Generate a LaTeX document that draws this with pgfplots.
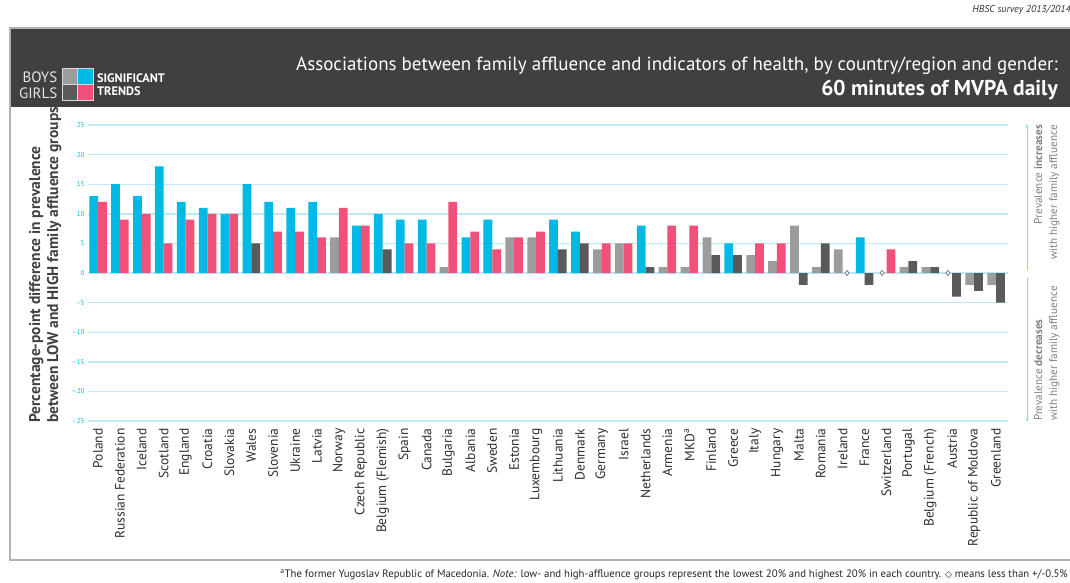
\documentclass[border=0pt]{standalone}
\usepackage{fontspec}
\setmainfont{PT Sans}
\newfontfamily\dejavu{DejaVu Sans}
\usepackage{pgfplots}
\pgfplotsset{compat=1.18}
\usetikzlibrary{arrows.meta}
\definecolor{hcyan}{HTML}{00B9E4}
\definecolor{hpink}{HTML}{F0507A}
\definecolor{hlgray}{HTML}{9C9C9C}
\definecolor{hdgray}{HTML}{5A5A5A}
\definecolor{hband}{HTML}{404040}
\definecolor{hgrid}{HTML}{BCE8F7}
\definecolor{harrow}{HTML}{8ED6EE}
\begin{document}
\begin{tikzpicture}[x=1pt,y=-1pt]
\path[use as bounding box] (0,0) rectangle (1070,583);
% frame and header band
\draw[color=black!30, line width=1.5pt] (10,28) rectangle (1085,560);
\fill[hband] (10.75,28.75) rectangle (1070,107.5);
% legend squares
\fill[hlgray] (62,68) rectangle (77,84);
\fill[hcyan] (77,68) rectangle (93,84);
\fill[hdgray] (62,84) rectangle (77,100);
\fill[hpink] (77,84) rectangle (93,100);
\draw[white!85!black, line width=0.8pt] (62,68) rectangle (93,100) (77,68) -- (77,100) (62,84) -- (93,84);
\node[anchor=east, text=white!90!black, font=\fontsize{15}{15}\selectfont, inner sep=0] at (57.5,77) {BOYS};
\node[anchor=east, text=white!90!black, font=\fontsize{15}{15}\selectfont, inner sep=0] at (57.5,93) {GIRLS};
\node[anchor=west, text=white, font=\bfseries\fontsize{12.3}{12}\selectfont, inner sep=0] at (97,78) {SIGNIFICANT};
\node[anchor=west, text=white, font=\bfseries\fontsize{12.3}{12}\selectfont, inner sep=0] at (97,91.5) {TRENDS};
% title
\node[anchor=east, text=white, font=\fontsize{19}{19}\selectfont, inner sep=0] at (1058,66) {Associations between family affluence and indicators of health, by country/region and gender:};
\node[anchor=east, text=white, font=\bfseries\fontsize{21.5}{21.5}\selectfont, inner sep=0] at (1058,90) {60 minutes of MVPA daily};
\node[anchor=east, text=black!80, font=\itshape\fontsize{10}{10}\selectfont, inner sep=0] at (1071,10) {HBSC survey 2013/2014};
% y label
\node[rotate=90, anchor=north west, align=left, text=black!75, font=\bfseries\fontsize{15.5}{18}\selectfont, inner sep=0] at (29,423) {Percentage-point difference in prevalence\\between LOW and HIGH family affluence groups};
% right annotations
\draw[harrow, line width=1pt, -{Stealth[length=4pt]}] (1027,270) -- (1027,124);
\draw[harrow, line width=1pt, -{Stealth[length=4pt]}] (1027,278) -- (1027,422);
\node[rotate=90, anchor=north east, align=right, text=black!50, font=\fontsize{11.2}{15}\selectfont, inner sep=0] at (1034,125) {Prevalence \textbf{increases}\\with higher family affluence};
\node[rotate=90, anchor=north west, align=left, text=black!50, font=\fontsize{11.2}{15}\selectfont, inner sep=0] at (1034,421) {Prevalence \textbf{decreases}\\with higher family affluence};
% footnote
\node[anchor=east, text=black!85, font=\fontsize{10.8}{10.8}\selectfont, inner sep=0] at (1068,575) {\textsuperscript{a}The former Yugoslav Republic of Macedonia. \textit{Note:} low- and high-affluence groups represent the lowest 20\% and highest 20\% in each country. {\dejavu\fontsize{9}{9}\selectfont ◇} means less than +/-0.5\%};
\begin{axis}[
  at={(88pt,-421pt)}, anchor=south west,
  scale only axis, width=920pt, height=296pt,
  xmin=-0.457, xmax=41.548, ymin=-25, ymax=25,
  clip=false,
  axis line style={draw=none},
  major tick style={draw=none},
  ytick={-25,-20,...,25},
  yticklabels={\textendash25,\textendash20,\textendash15,\textendash10,\textendash5,0,5,10,15,20,25},
  yticklabel style={font=\fontsize{7}{7}\selectfont, text=hcyan},
  ymajorgrids, grid style={hgrid, line width=1.4pt},
  xtick={0,...,41},
  xticklabels={Poland,Russian Federation,Iceland,Scotland,England,Croatia,Slovakia,Wales,Slovenia,Ukraine,Latvia,Norway,Czech Republic,Belgium (Flemish),Spain,Canada,Bulgaria,Albania,Sweden,Estonia,Luxembourg,Lithuania,Denmark,Germany,Israel,Netherlands,Armenia,MKD\textsuperscript{a},Finland,Greece,Italy,Hungary,Malta,Romania,Ireland,France,Switzerland,Portugal,Belgium (French),Austria,Republic of Moldova,Greenland},
  xticklabel style={rotate=90, anchor=east, font=\fontsize{13.5}{13.5}\selectfont, text=black!82},
  xticklabel shift=4pt,
]
% boys significant
\addplot[ybar, bar width=0.4, bar shift=-0.2, fill=hcyan, draw=none] coordinates {(0,13)(1,15)(2,13)(3,18)(4,12)(5,11)(6,10)(7,15)(8,12)(9,11)(10,12)(12,8)(13,10)(14,9)(15,9)(17,6)(18,9)(21,9)(22,7)(25,8)(29,5)(35,6)};
% boys not significant
\addplot[ybar, bar width=0.4, bar shift=-0.2, fill=hlgray, draw=none] coordinates {(11,6)(16,1)(19,6)(20,6)(23,4)(24,5)(26,1)(27,1)(28,6)(30,3)(31,2)(32,8)(33,1)(34,4)(37,1)(38,1)(40,-2)(41,-2)};
% girls significant
\addplot[ybar, bar width=0.4, bar shift=0.2, fill=hpink, draw=none] coordinates {(0,12)(1,9)(2,10)(3,5)(4,9)(5,10)(6,10)(8,7)(9,7)(10,6)(11,11)(12,8)(14,5)(15,5)(16,12)(17,7)(18,4)(19,6)(20,7)(23,5)(24,5)(26,8)(27,8)(30,5)(31,5)(36,4)};
% girls not significant
\addplot[ybar, bar width=0.4, bar shift=0.2, fill=hdgray, draw=none] coordinates {(7,5)(13,4)(21,4)(22,5)(25,1)(28,3)(29,3)(32,-2)(33,5)(35,-2)(37,2)(38,1)(39,-4)(40,-3)(41,-5)};
% less than 0.5
\addplot[only marks, mark=diamond*, mark size=2.6pt, mark options={fill=white, draw=black!50, line width=0.8pt}] coordinates {(34.2,0)(35.8,0)(38.8,0)};
\end{axis}
\end{tikzpicture}
\end{document}
